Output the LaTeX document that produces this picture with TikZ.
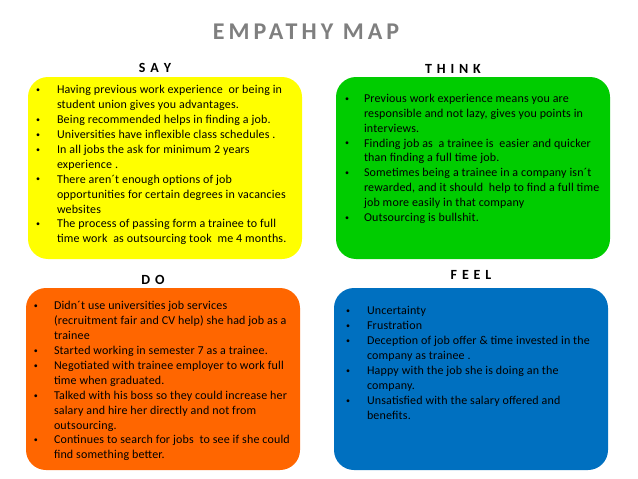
\documentclass[tikz,border=0pt]{standalone}
\usepackage{fontspec}
\setmainfont{Carlito}
\usetikzlibrary{positioning}
\definecolor{sayyellow}{HTML}{FFFF00}
\definecolor{thinkgreen}{HTML}{00CC00}
\definecolor{doorange}{HTML}{FF6600}
\definecolor{feelblue}{HTML}{0070C0}
\definecolor{titlegray}{HTML}{7F7F7F}
\newcommand{\bul}{\hspace{1pt}\raisebox{1.2pt}{\fontsize{8}{8}\selectfont\textbullet}}
\newcommand{\bulletlist}[2]{\begin{tabular}[t]{@{}p{#1}@{}l@{}}#2\end{tabular}}

\begin{document}
\begin{tikzpicture}[x=1pt,y=-1pt,quad/.style={fill=#1,rounded corners=20pt,minimum width=274pt,minimum height=182pt,inner sep=0pt},head/.style={anchor=base,inner sep=0pt,font=\fontsize{14}{16}\selectfont\bfseries\addfontfeature{LetterSpace=12}},items/.style={anchor=base west,inner sep=0pt,font=\fontsize{12}{14.9}\selectfont\addfontfeature{LetterSpace=1.5}}]
\useasboundingbox[fill=white] (0,0) rectangle (638,479);
\node[anchor=base,inner sep=0pt,text=titlegray,font=\fontsize{24}{28}\selectfont\bfseries\addfontfeature{LetterSpace=17}] (title) at (306,39) {EMPATHY MAP};
% the four quarters
\node[quad=sayyellow] (say) at (165,168) {};
\node[quad=thinkgreen] (think) at (473,168) {};
\node[quad=doorange] (do) at (163,379) {};
\node[quad=feelblue] (feel) at (471,379) {};
\node[head] (sayhead) at (155,72.7) {S A Y};
\node[head] (thinkhead) at (453,73) {T H I N K};
\node[head] (dohead) at (153,284) {D O};
\node[head] (feelhead) at (471,279) {F E E L};
% lists
\node[items] (saytext) at ([xshift=7pt,yshift=-17pt]say.north west) {\bulletlist{22pt}{
\bul & Having previous work experience\ \ or being in\\
 & student union gives you advantages.\\
\bul & Being recommended helps in finding a job.\\
\bul & Universities have inflexible class schedules .\\
\bul & In all jobs the ask for minimum 2 years\\
 & experience .\\
\bul & There aren´t enough options of job\\
 & opportunities for certain degrees in vacancies\\
 & websites\\
\bul & The process of passing form a trainee to full\\
 & time work\ \ as outsourcing took\ \ me 4 months.}};
\node[items] (thinktext) at ([xshift=8pt,yshift=-25.5pt]think.north west) {\bulletlist{20pt}{
\bul & Previous work experience means you are\\
 & responsible and not lazy, gives you points in\\
 & interviews.\\
\bul & Finding job as\ \ a trainee is\ \ easier and quicker\\
 & than finding a full time job.\\
\bul & Sometimes being a trainee in a company isn´t\\
 & rewarded, and it should\ \ help to find a full time\\
 & job more easily in that company\\
\bul & Outsourcing is bullshit.}};
\node[items] (dotext) at ([xshift=7pt,yshift=-22pt]do.north west) {\bulletlist{21pt}{
\bul & Didn´t use universities job services\\
 & (recruitment fair and CV help) she had job as a\\
 & trainee\\
\bul & Started working in semester 7 as a trainee.\\
\bul & Negotiated with trainee employer to work full\\
 & time when graduated.\\
\bul & Talked with his boss so they could increase her\\
 & salary and hire her directly and not from\\
 & outsourcing.\\
\bul & Continues to search for jobs\ \ to see if she could\\
 & find something better.}};
\node[items] (feeltext) at ([xshift=11pt,yshift=-27pt]feel.north west) {\bulletlist{22pt}{
\bul & Uncertainty\\
\bul & Frustration\\
\bul & Deception of job offer \& time invested in the\\
 & company as trainee .\\
\bul & Happy with the job she is doing an the\\
 & company.\\
\bul & Unsatisfied with the salary offered and\\
 & benefits.}};
\end{tikzpicture}
\end{document}
